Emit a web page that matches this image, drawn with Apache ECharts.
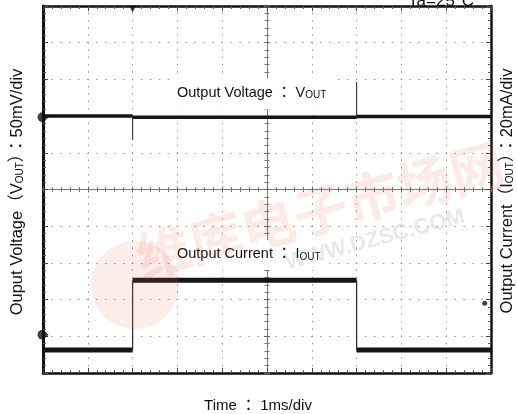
<!DOCTYPE html>
<html>
<head>
<meta charset="utf-8">
<script src="https://cdn.jsdelivr.net/npm/echarts@6/dist/echarts.min.js"></script>
<style>
  html, body { margin: 0; padding: 0; background: #fff; }
  #chart { width: 517px; height: 414px; }
</style>
</head>
<body>
<div id="chart"></div>
<script>
// Time axis in ms, measured from the centre of the screen (1 ms per division)
const timeRange = [-5, 5];
// Vertical scale in divisions (VOUT 50 mV/div, IOUT 20 mA/div)
const divRange = [-5, 5];

// Load step edges (ms) and the trace level between each pair of edges (div)
const stepEdges = [-5, -3, 2, 5];
const voutLevels = [2.0, 1.97, 1.99];
const ioutLevels = [-4.37, -2.47, -4.37];
// VOUT transient peak at each load edge (div): undershoot, then overshoot
const voutPeaks = [1.35, 2.93];

// Channel reference markers and trigger marks: [time, div]
const voutGround = [-5, 1.97];
const ioutGround = [-5, -3.96];
const triggerPoint = [-3, 5];
const triggerLevel = [4.86, -3.1];

// Flat segments with breaks between them
function flatSegments(levels) {
  const out = [];
  levels.forEach((lv, i) => {
    if (i > 0) out.push([stepEdges[i], '-']);
    out.push([stepEdges[i], lv], [stepEdges[i + 1], lv]);
  });
  return out;
}
// Vertical edges between consecutive levels
function edgeSegments(levels) {
  const out = [];
  for (let i = 1; i < levels.length; i++) {
    if (i > 1) out.push([stepEdges[i], '-']);
    out.push([stepEdges[i], levels[i - 1]], [stepEdges[i], levels[i]]);
  }
  return out;
}
// Short spikes from the trace to a transient peak at each inner edge
function spikeSegments(levels, peaks) {
  const out = [];
  for (let i = 1; i < levels.length; i++) {
    if (i > 1) out.push([stepEdges[i], '-']);
    out.push([stepEdges[i], levels[i - 1]], [stepEdges[i], peaks[i - 1]], [stepEdges[i], levels[i]]);
  }
  return out;
}

const FONT = '"Liberation Sans", "Noto Sans CJK JP", sans-serif';
const GRID_DOTS_H = [1.6, 44.8 / 5 - 1.6];
const GRID_DOTS_V = [1.6, 36.7 / 5 - 1.6];

function frameX(position) {
  return {
    type: 'value', min: timeRange[0], max: timeRange[1], interval: 1, position,
    axisLine: { show: true, onZero: false, lineStyle: { color: '#111', width: 2.5 } },
    axisTick: { show: true, inside: true, length: 5, lineStyle: { color: '#444', width: 1 } },
    minorTick: { show: true, splitNumber: 5, length: 3, lineStyle: { color: '#555', width: 1 } },
    axisLabel: { show: false }, splitLine: { show: false }
  };
}
function frameY(position) {
  return {
    type: 'value', min: divRange[0], max: divRange[1], interval: 1, position,
    axisLine: { show: true, onZero: false, lineStyle: { color: '#111', width: position === 'left' ? 3 : 2.5 } },
    axisTick: { show: true, inside: true, length: 5, lineStyle: { color: '#444', width: 1 } },
    minorTick: { show: true, splitNumber: 5, length: 3, lineStyle: { color: '#555', width: 1 } },
    axisLabel: { show: false }, splitLine: { show: false }
  };
}
function centreX(inside) {
  return {
    type: 'value', min: timeRange[0], max: timeRange[1], interval: 1, position: 'bottom',
    axisLine: { show: true, onZero: true, onZeroAxisIndex: 0, lineStyle: { color: '#777', width: 1 } },
    axisTick: { show: true, inside, length: 3, lineStyle: { color: '#666', width: 1 } },
    minorTick: { show: true, splitNumber: 5, length: 2.5, lineStyle: { color: '#777', width: 1 } },
    axisLabel: { show: false }, splitLine: { show: false }
  };
}
function centreY(inside) {
  return {
    type: 'value', min: divRange[0], max: divRange[1], interval: 1, position: 'left',
    axisLine: { show: true, onZero: true, onZeroAxisIndex: 0, lineStyle: { color: '#777', width: 1 } },
    axisTick: { show: true, inside, length: 3, lineStyle: { color: '#666', width: 1 } },
    minorTick: { show: true, splitNumber: 5, length: 2.5, lineStyle: { color: '#777', width: 1 } },
    axisLabel: { show: false }, splitLine: { show: false }
  };
}

const xBottom = frameX('bottom');
xBottom.splitLine = { show: true, lineStyle: { color: '#999', width: 1, type: GRID_DOTS_V, dashOffset: 0.8 } };
const yLeft = frameY('left');
yLeft.splitLine = { show: true, lineStyle: { color: '#999', width: 1, type: GRID_DOTS_H, dashOffset: 0.8 } };

// channel ground marker: round back with a point to the right
const marker = 'path://M5,0 L6,0 L11,5 L6,10 L5,10 A5,5 0 0,1 5,0 Z';

const sub = { fontSize: 10, fontFamily: FONT, fill: '#111', padding: [6, 0, 0, 0] };

const chart = echarts.init(document.getElementById('chart'), null, { renderer: 'canvas' });
chart.setOption({
  animation: false,
  backgroundColor: '#fff',
  grid: { left: 43, top: 6, width: 448, height: 367, show: false },
  xAxis: [xBottom, frameX('top'), centreX(true), centreX(false)],
  yAxis: [yLeft, frameY('right'), centreY(true), centreY(false)],
  series: [
    {
      name: 'VOUT', type: 'line', data: flatSegments(voutLevels), showSymbol: false, symbol: 'none',
      connectNulls: false, lineStyle: { color: '#151515', width: 3.5 }, z: 5
    },
    {
      name: 'VOUT transient', type: 'line', data: spikeSegments(voutLevels, voutPeaks), showSymbol: false, symbol: 'none',
      connectNulls: false, lineStyle: { color: '#333', width: 1.1 }, z: 5
    },
    {
      name: 'IOUT', type: 'line', data: flatSegments(ioutLevels), showSymbol: false, symbol: 'none',
      connectNulls: false, lineStyle: { color: '#151515', width: 5 }, z: 5
    },
    {
      name: 'IOUT edges', type: 'line', data: edgeSegments(ioutLevels), showSymbol: false, symbol: 'none',
      connectNulls: false, lineStyle: { color: '#333', width: 1.3 }, z: 5
    },
    {
      name: 'markers', type: 'scatter', clip: false, z: 6,
      itemStyle: { color: '#111' },
      data: [
        { value: voutGround, symbol: marker, symbolSize: [11, 10] },
        { value: ioutGround, symbol: marker, symbolSize: [11, 10] },
        { value: triggerPoint, symbol: 'triangle', symbolRotate: 180, symbolSize: [7, 7], symbolOffset: [0, 3] },
        { value: triggerLevel, symbol: 'circle', symbolSize: 5 }
      ]
    }
  ],
  graphic: [
    {
      type: 'text', x: 174, y: 94, z: 1,
      style: {
        text: '{a|Output Voltage ： V}{s|OUT}', textVerticalAlign: 'middle',
        backgroundColor: '#fff', padding: [6, 8, 9, 3],
        rich: { a: { fontSize: 14.5, fontFamily: FONT, fill: '#111' }, s: sub }
      }
    },
    {
      type: 'text', x: 174, y: 255, z: 1,
      style: {
        text: '{a|Output Current ： I}{s|OUT}', textVerticalAlign: 'middle',
        backgroundColor: '#fff', padding: [6, 8, 8, 3],
        rich: { a: { fontSize: 14.5, fontFamily: FONT, fill: '#111' }, s: sub }
      }
    },
    {
      type: 'text', x: 17, y: 192, rotation: Math.PI / 2, z: 1,
      style: {
        text: '{a|Ouput Voltage（V}{s|OUT}{a|）：50mV/div}', textAlign: 'center', textVerticalAlign: 'middle',
        rich: { a: { fontSize: 16.5, fontFamily: FONT, fill: '#111' }, s: sub }
      }
    },
    {
      type: 'text', x: 507, y: 191, rotation: Math.PI / 2, z: 1,
      style: {
        text: '{a|Output Current（I}{s|OUT}{a|）：20mA/div}', textAlign: 'center', textVerticalAlign: 'middle',
        rich: { a: { fontSize: 16.5, fontFamily: FONT, fill: '#111' }, s: sub }
      }
    },
    {
      type: 'text', x: 258, y: 406, z: 1,
      style: { text: 'Time ： 1ms/div', textAlign: 'center', textVerticalAlign: 'middle', fontSize: 15, fontFamily: FONT, fill: '#111' }
    },
    {
      type: 'text', x: 441, y: 1, z: 1,
      style: { text: 'Ta=25°C', textAlign: 'center', textVerticalAlign: 'middle', fontSize: 17, fontFamily: FONT, fill: '#111' }
    },
    // faint site watermark over the plot
    {
      type: 'circle', shape: { cx: 135, cy: 285, r: 44 }, z: 50,
      style: { fill: 'rgba(235,110,90,0.13)' }
    },
    {
      type: 'text', x: 320, y: 210, rotation: 0.26, z: 50,
      style: { text: '维库电子市场网', textAlign: 'center', textVerticalAlign: 'middle', fontSize: 54, fontWeight: 'bold', fontFamily: '"Noto Sans CJK SC", sans-serif', fill: 'rgba(235,90,70,0.13)' }
    },
    {
      type: 'text', x: 375, y: 240, rotation: 0.26, z: 50,
      style: { text: 'WWW.DZSC.COM', textAlign: 'center', textVerticalAlign: 'middle', fontSize: 22, fontWeight: 'bold', fontFamily: FONT, fill: 'rgba(140,140,140,0.2)' }
    }
  ]
});
</script>
</body>
</html>
